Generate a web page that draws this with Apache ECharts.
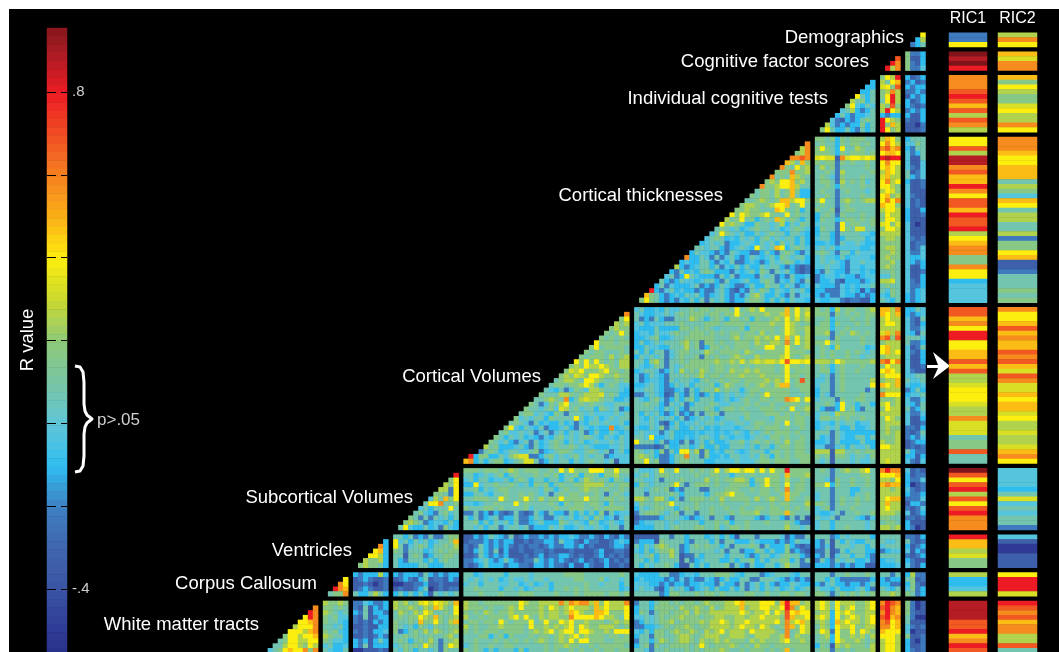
<!DOCTYPE html>
<html>
<head>
<meta charset="utf-8">
<title>R value matrix</title>
<script src="https://cdn.jsdelivr.net/npm/echarts@6/dist/echarts.min.js"></script>
<style>
  html, body { margin: 0; padding: 0; background: #fff; overflow: hidden; }
  #back { position: absolute; left: 9px; top: 9px; width: 1050px; height: 643px; background: #000; }
  #main { position: absolute; left: 0; top: 0; width: 1059px; height: 652px; filter: blur(0.45px); }
</style>
</head>
<body>
<div id="back"></div>
<div id="main"></div>
<script>
// colour codes used in the rows below -> R value
var codeValues = { a: -.5, b: -.33, c: -.22, d: -.1, e: -.02, f: .08, g: .17, h: .26, i: .33, j: .4, k: .48, l: .58, m: .68, n: .8, o: .88, p: .97 }

var sectionNames = ["Demographics", "Cognitive factor scores", "Individual cognitive tests", "Cortical thicknesses", "Cortical Volumes", "Subcortical Volumes", "Ventricles", "Corpus Callosum", "White matter tracts"]
var sectionSizes = [4, 4, 12, 35, 33, 13, 7, 5, 12]
var ricNames = ["RIC1", "RIC2"]
var tickLabels = { "0.8": ".8", "-0.4": "-.4" }

// colour bar steps, top to bottom
var barLevels = [.95, .93, .91, .89, .87, .85, .83, .81, .79, .77, .75, .73, .71, .69, .67, .65, .63, .61, .59, .57, .55, .53, .51, .49, .47, .45, .43, .41, .39, .37, .35, .33, .31, .29, .27, .25, .23, .21, .19, .17, .15, .13, .11, .09, .07, .05, .03, .01, -.01, -.03, -.05, -.07, -.09, -.11, -.13, -.15, -.17, -.19, -.21, -.23, -.25, -.27, -.29, -.31, -.33, -.35, -.37, -.39, -.41, -.43, -.45, -.47, -.49, -.51, -.53, -.55, -.57, -.59]

// matrix rows: own triangle | then the column blocks going right, split by |
var demogRows = [
  "",
  "j",
  "dh",
  "cdf"
]
var cogRows = [
  "|gccd",
  "m|gbbd",
  "nl|gcbd",
  "nhl|gcce"
]
var indivRows = [
  "|gjhn|dbcd",
  "d|hfjk|cdbc",
  "dd|ijgm|dcdd",
  "ddf|ghlh|ccdc",
  "jfdf|gjnh|bdcd",
  "hfgdf|fjnh|dbcd",
  "gjedfe|hgmg|dcbc",
  "efhdcdf|hnjh|cdcd",
  "dfdcddef|dcdd|dbbd",
  "ecbdcdfgf|njhg|cbbd",
  "hecdcddgdf|ngkh|bbac",
  "gjfddfdcfdf|njgh|bbbc"
]
var thickRows = [
  "|ggfgdgfgggff|hkjg|dfff",
  "l|fgffdgfggfgf|jljh|eegf",
  "hl|gjgfdjffhgff|lmkl|dcff",
  "ghl|gggfdgfgggfg|jkkj|ecdf",
  "llml|ijiiblijjiji|nonn|ebbf",
  "khfkg|gfggcgfgffgf|jljj|ebbe",
  "lgfjgh|fhfgcfffffgf|jkjh|ecbe",
  "ggglggh|ffgfchfffffg|hkjh|fbce",
  "lfgfkhgf|fgfecgfffgff|ikhh|fdce",
  "ghgjjkghf|fggfchfgfgef|jlhj|dbbc",
  "lgghjjkhff|ffgfdgfffgff|jjhg|ebbc",
  "fggfhfgkgdd|fgffcfgfffef|hjig|ebbb",
  "gfggfhfgkfdd|ffgfcffffgff|jkgh|ecbb",
  "ffghgfgkkhjjg|gjffcghgfghh|jljl|ebcb",
  "ghhgfghjjkfgjf|fgffcfgfffff|kjjg|ebcb",
  "gghggfffkjgfgdf|gffgbfggffff|hjjh|dbbd",
  "jgjhgghjgffjfgff|dfgfcgfffgff|gjhh|dbbc",
  "hfgjfgdfgfkhfgfdf|dgffdfggfgfg|gjjh|dbbb",
  "jghgfddgffefhdfegf|efffcjfggffg|ijgi|ebab",
  "fgfefdefgffefdefgfe|dgffcjgfiiff|gjjh|ebbb",
  "efjgfefddfefgffdffed|dffdcffffeed|hhhh|ebbb",
  "efgfdedfefdfgefeffdfd|effdcdffffde|ghhg|ecbc",
  "defefcddefedfefdgefdfd|ddedcfeefedd|gggg|ebcc",
  "ffeffdcdefedjfefkjdfgfe|efefdeeeedde|ghhg|ebce",
  "dfeedcdcfeddccdfdcfgfdce|fgfecffdfeee|gghg|ecce",
  "lddfecfcefdcdfedefdgfeffd|efeedfdeeeed|ghgg|edde",
  "deddffdcedfccdedcdfefgfded|efefedceefee|gghf|edcd",
  "hdcdeffdfcedfdfddfeffdcdcbc|eefeedceedee|ghgf|ebbd",
  "dcfdedfgfdddcedefdgfcfefdcbc|dcfeddceeded|ffgf|ebbc",
  "efcdjfedddcfdfcdddcfefcdcfdde|cdeededdcdee|eegf|ebbd",
  "fdcdfeedeffdcfddefddfgfcedfdcf|cddecbdddcde|hhif|ecbd",
  "dfcedddefcdcdfedccdfddgffdfecde|edddcededeef|fgff|eccd",
  "ndcefdeddcdccefdcbdcfegfdfedfefd|ddcccededbdc|fegf|ecde",
  "kgfdcdedfefdcdefdcdceghfddfdcfcee|dcdcceddcdcd|edgf|dcde",
  "gjgfdcdcedfdfcfefdcddfggfdfdfdfeed|eddeecbccbbd|fedf|dcde"
]
var volRows = [
  "|efdde dfeef fgfgg fgggf jfghg jgggg kgjgh|gfgdhfggffgh|kkhl|ddfe",
  "l|fedde efefg fgggf ggfgg jgfgg ghggh kgjgi|gggcgfgfgfgg|kjhk|dcde",
  "gj|fcdcf dccff fhgfd fgfdg gfgdg ffghg jgigh|ffgdfffgffgf|hjhh|ecbf",
  "hgh|efdee efffg ffffg ggfgg ggfgg gghgg jhgfg|fggdgfffgfgf|hjjh|ecbd",
  "ghgg|edddf ddddg gfgfg fefff fgdgg gggfg jhggh|gggdffgfffff|hhhh|ecce",
  "gfgjg|deedf eefgf fgggf gfgfg gfggf hfgfg jhgfh|gghcfgfhgfgf|ikhl|edbf",
  "gfgfgf|ddefg ddeff ggggg gfffg hfggh ghgjg kgjgh|fffcgffffgff|lmgm|fffe",
  "jgggfgg|dfdef efffg hfgcg gfgff gggfh gghhg lgjgh|ggjfgffffgff|ghhh|fccd",
  "gjfggggf|ddfee ddfff hfgcd ggfgf gggfg gjjgg jgfgh|fgfdhfffffde|jkhh|ebcf",
  "gfggfffgf|fdfdf fcefg gfffh gfggg gfhgf fgggg jgggf|fgfgffgfgfef|jkhj|ecbd",
  "gfgggfhfgh|dfefe fcefg ffgcg fgffg hgffh ggggh jgfgh|fgfgffgffeff|ghhh|ebbd",
  "jgjgjgfgfhh|ffdgh fcffg fgggg ghggh gighi hiihj mjjij|hhhgjhgggggh|lmjl|ebbd",
  "ghgjhhjhgfhh|fedeg fcfef ggggg fggfg gfgfg gggfg jggfg|fgfdfgfffgff|gjhh|ebbc",
  "gihjggghjggfg|deffe cdfeh fgfhg fggfh gghgh gggfg jfggg|fggdfgffgfff|jkjh|ecbb",
  "ghgihgjjhgghgg|ecdfe dcfff gfghf ggfgg ghggg hgggg jggfg|fefcfgffffff|hjjj|eeff",
  "fghhgfjjhgffgfg|ecdee dcfef fedfg ffgfg gfggg ghghg jfgmg|eefcfgfffffh|ghhk|feef",
  "fggfgghjhfdfgfee|ddefe dcdfe fdfff gdfhg ffgfg hgfhk kfggg|effcfgfffffj|kjhk|edde",
  "fedfcegfehhgfffed|eeffe dccde cfdfg fhfgf fdfgg fgggg gffgg|dffcfgffffcf|ghhh|cdfd",
  "gfffhhgfghhhifgfdd|ccefe dbcfd cfdcd fdefe fefgf gjggg gfffg|dfecfffffgff|ljjj|deef",
  "ffghgfldfhihhgffdde|fedfg ecdfd fgdff fdefd efgff ggfgg lkjgj|efffcgffggff|gggh|ecce",
  "gfcegfhjffgfgffeefff|ffgff dcfef cdfff gfeef ffgfg ffgff gggfg|ffgfdjffdffd|hjgh|edcf",
  "gffefgeihfgeffdgfefcd|ffffe dfefd cfffg fdfgg fgfff gggfg fjfgh|fdccdjfgdcff|gjhh|fcdf",
  "fggefedgfcfffefeeeefef|fdfef dcdfc dcfcf gfcff ffgff fgggf gfgfg|effehgggffff|hhhh|ecce",
  "gefeffdgffffjfdefdefeff|fedfe fefdf cdefe fdeff fegff ffegg gfggf|eggfgfgffgff|gjhg|ebbd",
  "fgfecfdeddfdecedffefeefd|feefe cbdfd eefef fefee ffefg gffgf jfggf|deedfeffdeef|ghhh|ebbc",
  "gjedfedfcddefdcfededdldef|eddfe gcefd dfefd edeee deffg fgggf gffgf|defefddfddef|ghgg|ccbd",
  "fgeefefcefcefdfefcdfddfede|efeee cefdd ddede edede fedfe fgfgg gfgff|fffcfedddddd|ghgh|cbcf",
  "gfdfefdedcedfgefefgfedfedfe|ffejd defdd edeff edfed eedef feggf gffgf|fdecfeddffdf|gggh|cdce",
  "gfefdcefcfdefgfdfefdefeefefe|jfffd fcddc fcefd fddef fgefg fgfgf hfggf|ddecfddddfdd|hggh|bcdd",
  "hfgdddefdcfdefgffgfefedddeefe|ccccb cfddf fdegd dfddf ffefd ffdfg gfggf|eeccefdfeefd|jjhh|bcbc",
  "cfgfdeffeefgcdefggfeefgfefcefd|gfefd gcfdj jfhcg dedff edeff fdfgf gfggf|hhhbhhffgfgg|hhhh|fdcc",
  "ndggddfeghiiccdfgefefgefeffcdeee|ghgfd ccdfg lffcg ddedf feefe gfdgf gfggg|gfgbggfeffeg|hhhh|ddbd",
  "kldfdfggdefgiifcdfeffdfefgffefbee|ggjfg ccdfg gfffd deeee feeef ggfgg gffgg|fefbfffefeef|hihh|ecbe"
]
var subcRows = [
  "|ggg fg ggfgh gfggg ffgfj gjggg jjjgg jgg|feeef jffjf fgfgf gjfhj jhjjg jgjgg ngggg|fgfcfghgghjf|lnll|ebcb",
  "n|ffdef efgdf gfffg fgfgd ffgdg gfdgg hff|efgef ggfff ffgff ggffd fgfgf ffggf kgggh|fffcfffffggf|jjjk|dbcc",
  "gj|efdff deefd fgfdf fdffd fgdfh gfgfd gfe|ffeef cfffg ffffh fgfgg hhgdg gjggf hffgf|ffecgffgffgf|hhgj|dcce",
  "hgj|ddjef fgffg fefdg fgdfg ffggh hhhfg fgg|dgfef ffgjf cfggg fgffg gggdf gjggf jfggf|ggjdgffgffgf|klkk|dabc",
  "hhcj|ffgdf efggf fffff egfdf gffgh ggfgf fgf|ffefg fgcdc fffcc fffgg gffgf ggfgf lfggf|fffcfffddfff|hhgh|ecbc",
  "ggfcj|ddffe dffgf fgfgf efcfg fggfg fgfcf gfe|ffcff ffgfd ffffd fgghj ggfff ggffg kggff|effcfffdffgf|hhhh|dccd",
  "ehfkgj|ffggg ffjgf fgjgf hfggj ggggj ggfgg fgf|hhgfh hfdfc fgggf gfhfg gggfh fghgf kgffg|effcfgffgfgf|hjkk|ccce",
  "fjjlffg|eedef fgfff jfgff ffgfd gfggf ggfdg fff|egffg fgjff ffgff ffgff ffgff ffgfg gfffh|ggfcfgffgfff|hkhh|bddc",
  "efdfffjf|gfffg gfgff ffgef fffgf fgggf fgfgg ggf|dfefg gffdf gfgff gffgf fgffg gfggf gfgfg|efgcfffgffff|hjhh|cbce",
  "fgedcfgef|ccfcd bdcbc fcbcf dcfdd cfdfd fdgcf dee|cfggg fefgc ffcff gfffg fgggh ffggg kgfff|eddefcffgffg|hhhg|ebcd",
  "gfcfcfefdf|fdfcd efcdd fccdf eccef efdef dgfde cef|bcccc dfffe dcdef cffdc ffffd cdffd cfcfb|feefcfffedce|ggff|ccbc",
  "ghgfcdeedfd|ffgdf dfefd fccde fdddg fefed gfdef edf|cdeef fefef fffdf fgfgd ffgff fgfff gfdcc|effdffffffef|fggf|dbbb",
  "fjeddfdecged|ffefd ffcef fefcd ddfef ddefe efedf fcf|ddddf fefgf ffggf fgefg gfgff fffff hffef|effdffgfffef|hhgh|dcab"
]
var ventRows = [
  "|ffdfcdcfccfgg|bbdcd fedcf bcdcc dcdcd dedcc dcbdc bdc|bbbbb ffcff dfffd efdfd bfffc ffffe bdccf|fffcdfeffffd|ffff|ccbd",
  "d|jefdfefdeffgk|bcccd cdcdd bbcbc cddcf ddcbd ccbbc ded|cdddb gffff dcfff dfcff dddfe dddcd cdfee|dcfbfdfeddff|feef|fcbc",
  "ld|jfcefgfdffgfh|cbcfd cdcdc bcbcc bcdcc ddcdb cbbbc ddc|fdfeg hgffc dfgfg ffdfc fffgf cfddd gdcbc|dcebfffeffdf|efff|dbcd",
  "jkd|gfcfffdefgfgg|cbdfd cfbdb bcbbc cbcbb bcbbb bcdbb ccb|edfdf gghfc dffff fefcf fcddg fdfdd gcdcb|ccfbcfdfffdd|cdee|ebdc",
  "jjhd|ffbfgfcdffggf|bbcfd cdcdb bbcbc dbccd dcbcb bcdbc bcb|fefgd ffhfb ccfdf fffdf ffdcd ffdef gffdc|dcfbeffdffdc|ffff|cbcd",
  "hgghd|fdcfffdfdfgff|ccdef dcdfd cbccf dcdcd cbcdb cbcdb cbc|ffdfd ffffb fcdef ffddf dffgd fdffg gdfcf|cfdcfeffddec|deef|dcbb",
  "ghggfd|fddddffdddfff|cbcdf dddcd dccbd dcdcc bdbbd cbbdb bcb|fdfef fgfdb bfdfd fffgc fdcfd dffdf hffcc|dddcdcdcddbb|ddde|ecbd"
]
var corpRows = [
  "|dcdddhd|dcdddcfdcdcdd|ffdef fffdf fffef fffff ggggf fffff fgf|edddd ffccd eedff fgggf edfff cdeff fedff|fffcffgfffgf|ffcf|dhcc",
  "j|bcdcbbc|bcdcbdfbccbdc|fefef efdef eefef fefff ffggf ffgef fef|deddd dcdce cdcce dcdfd dffcc fffed cdcdc|ffdfdccccccd|dcdd|fgbc",
  "lj|bbcbabc|aabbccdbbcbbb|effdf ffeef fdefd efdff ffffg ffeff fdf|eeedd cdcdd cdded dcfdd cfcef dfdcd dfedd|dcefddcddcdf|ddcc|dgcb",
  "nlk|bcdcbbc|bcbbcdfabcbcc|ffgff ffdff efdef ffdff gfgfg fffff fde|efeec bdfef dcdef dfddf dfcef dfefd efdef|feedfdddefdc|fedf|egcd",
  "fggl|fddfhfd|dfdfdfdbfefef|fffgf ffgff fgggf fffgf ffgfg gggfg gfg|fffff cdggf ffgfg gfgff ffggf fgffg gfggf|ggfcfgfgfgfg|gghg|gfcd"
]
var wmRows = [
  "|hgghg|ccedccd|hghfgijhjihgk|hggfg ggggg gjhgg hhhhl hlkll hkgjh hhl|cffdf ggfgf ggfgh ggghh jkhhh jjjgk nkkgh|hjhfjhhhgghj|lnml|gcab",
  "l|ggfgf|cbfbdcd|hgghgfhgkigfj|hgggf gffgh gjggg hgjhg hjhhh gkhjh hhj|dffdg gggfh gghgf hfghh hkghh jjhhj nlgjh|hjhfjghjgghj|mnlk|gcab",
  "nl|hgfef|dcfbddc|fhgfhgjhffgfj|gfgfh gfggh ggggg hghhg hkjhg gkkjg ggj|dgfcf ggfgg hfhgg hhhhh hjhgh hjgjh mjkjj|ghhdjhjhgghh|lnlk|gcbb",
  "jnl|gfgee|cbfbcdd|fgfggjhgkgfgh|hffgf gggfh jgjgf hghhg gljjj jkjhh gfj|eefef gfggh gggfg ghhgg hhghh jhhhg mkhhj|hjhdjghjhghj|mnkl|fcaa",
  "jjkl|gffed|cbcbdcd|gffgfkggjgfhk|fggfg gfjgf gggjf gjggj hjggh gggfg hgh|cdfef gghfg ggghg hhjhg hhjhh hhhjg lhjkh|ghgdkhjhhghj|lmjk|fbbb",
  "hjjjl|ffefd|bbcbbdd|gfefdgfegffgg|hfgff gghgg ggfjg ghghg hjgjh gghhh gfg|ccdde fgfgg hgfgg hhhhg hjhhg jhgfg lkgjh|fhgdjhhjgghh|lljk|ecbc",
  "jjjhkl|gfged|cbcbdde|gcdfgfhfhgfgh|gfgfg ggfgg ggfgh ghjgh jjgjj hgghg jjj|edfdg gfghg ghgfh ghjgh hhgjh hhhgf lfgjh|gjhcjggjgjhg|kjjj|eabb",
  "gjjhjjk|hgffd|bbcbcdc|ffgfgffgffghf|fffgg dfgdg fffgf ggfgh ghjgh gggfg gfg|dffcg gffgh hgfgh hhggh hhgfh hhggh lfhgg|fghdjgghghfh|jjjh|gbbc",
  "fgjjhhjj|gfeed|dcdbdfd|fgfdfgfhfcfgh|ffgff fgfgf gfgfg hgfgh gjgjj gggff ggg|cffdf hgfgh hgfhg ghghg ggfhg hgggh jgghg|fggdjhgghgfg|hjjh|dbac",
  "ffhjjhgjh|efdde|dcfbddd|efgfgfjgfcgjh|efgff gffgg fffff fgfgg hggff gfggg ggf|dfgcg ffggg gfgjg fgggh gfgfh ggfgg ggggg|dgfbhghgggfh|hjjh|dbbc",
  "efgjkjjlgl|feddf|aabbbcb|fegfdffefcgff|gfgfd fdfff dgdff fgfgf fgfgf fgfgg fgg|ffecf fgfff gfgfg gghgf fgfgg gfgfg kfggg|fggcgfgfgggh|hjjh|dcbc"
]

// RIC stripes, one string per section, space = no stripe
var ric1Rows = [
  " ccj",
  "popn",
  "lllmnmkmhmlh",
  "jjmhoolmkknljmmknmmnhjkllggljjdeeee",
  "mmkljnnjjkkmkmhhijjjihhliiifggmff",
  "pmjmnhmjmnlll",
  "nkkhigg",
  "hddeh",
  "oooommnklnm"
]
var ric2Rows = [
  " hlj",
  "kill",
  "kgjhggijhhlj",
  "lllkjjkkkfhgekjfhhffhcggjkbbcfffgfg",
  "ljjkmklkkmlmkimliikjkkijhhihhiklj",
  "eeeedfiefeffc",
  "ebaabbb",
  "jnnni",
  "nmlmkllhhmf"
]

var rowCount = 132
var colCount = 133

// first global index of each section: one empty row/column between sections
var sectionStart = []
var next = 0
sectionSizes.forEach(function (n) {
  sectionStart.push(next)
  next += n + 1
})

function indexList(n) {
  var arr = []
  for (var i = 0; i < n; i++) arr.push(i)
  return arr
}

// turn the coded rows of one section into heatmap cells
var matrixCells = []
function addRows(sectionIndex, rows) {
  rows.forEach(function (row, i) {
    var r = sectionStart[sectionIndex] + i
    if (r >= rowCount) return
    var parts = row.split("|")
    parts.forEach(function (part, p) {
      var b = parts.length - 1 - p
      var codes = part.replace(/ /g, "")
      for (var k = 0; k < codes.length; k++) {
        var c = sectionStart[b] + codes.length - 1 - k
        if (c < colCount) matrixCells.push([c, r, codeValues[codes.charAt(k)]])
      }
    })
  })
}
addRows(0, demogRows)
addRows(1, cogRows)
addRows(2, indivRows)
addRows(3, thickRows)
addRows(4, volRows)
addRows(5, subcRows)
addRows(6, ventRows)
addRows(7, corpRows)
addRows(8, wmRows)

function stripeCells(rows) {
  var cells = []
  rows.forEach(function (codes, s) {
    for (var k = 0; k < codes.length; k++) {
      if (codes.charAt(k) !== " ") cells.push([0, sectionStart[s] + k, codeValues[codes.charAt(k)]])
    }
  })
  return cells
}

var barCells = barLevels.map(function (v, i) { return [0, i, v] })

var myChart = echarts.init(document.querySelector("#main"), null, { renderer: "canvas" })

var cellW = 5.02
var cellH = 4.735
var fontName = "Liberation Sans"

// section captions: right-hand end and middle height of each text
var captionRight = [904, 869, 828, 723, 541, 413, 352, 317, 259]
var captionY = [38, 62, 99, 196, 377, 498, 551, 584, 625]

var elements = sectionNames.map(function (name, i) {
  return {
    type: "text",
    x: captionRight[i],
    y: captionY[i],
    silent: true,
    style: { text: name, fill: "#fff", font: "18.5px '" + fontName + "'", textAlign: "right", textVerticalAlign: "middle" }
  }
})
elements.push({
  type: "text", x: 28, y: 340, rotation: Math.PI / 2, silent: true,
  style: { text: "R value", fill: "#fff", font: "18.5px '" + fontName + "'", textAlign: "center", textVerticalAlign: "middle" }
})
elements.push({
  type: "text", x: 97, y: 420, silent: true,
  style: { text: "p>.05", fill: "#d0d0d0", font: "17px '" + fontName + "'", textVerticalAlign: "middle" }
})
// brace next to the colour bar
elements.push({
  type: "polyline", silent: true,
  shape: { points: [[75, 366], [80, 367], [83, 372], [84, 382], [84, 404], [85, 411], [87, 415], [92, 419], [87, 423], [85, 427], [84, 434], [84, 456], [83, 466], [80, 471], [75, 472]] },
  style: { fill: null, stroke: "#fff", lineWidth: 3, lineJoin: "round" }
})
// arrow pointing at RIC1
elements.push({
  type: "polygon", silent: true,
  shape: { points: [[927, 365], [938, 365], [933, 352], [950, 366], [933, 379], [938, 368], [927, 368]] },
  style: { fill: "#fff" }
})

function hiddenCat(gridIndex, data, inverse) {
  return { type: "category", gridIndex: gridIndex, data: data, inverse: inverse, show: false }
}

var option = {
  animation: false,
  visualMap: {
    show: false,
    dimension: 2,
    seriesIndex: [0, 1, 2, 3],
    min: -.6,
    max: 1,
    inRange: {
      color: ["#232a80", "#2e3a94", "#3a53a4", "#3f66ad", "#3e7fc1", "#2fbdf0", "#5fc6d8", "#78c5a5", "#8dc97a", "#c9d82f", "#fcee0f", "#fbb116", "#f58220", "#f04e23", "#ed1c24", "#a81c24", "#6e1216"]
    }
  },
  grid: [
    { outerBoundsMode: "none", left: 925.5 - colCount * cellW, top: 28, width: colCount * cellW, height: rowCount * cellH },
    { outerBoundsMode: "none", left: 949, top: 28, width: 38, height: rowCount * cellH },
    { outerBoundsMode: "none", left: 998, top: 28, width: 39, height: rowCount * cellH },
    { outerBoundsMode: "none", left: 47, top: 28, width: 20, height: barLevels.length * 8.28 },
    { outerBoundsMode: "none", left: 47, top: 9.2, width: 20, height: 662.8 }
  ],
  xAxis: [
    hiddenCat(0, indexList(colCount), true),
    {
      type: "category", gridIndex: 1, position: "top", data: [ricNames[0]],
      axisLine: { show: false }, axisTick: { show: false },
      axisLabel: { color: "#fff", fontSize: 16, fontFamily: fontName, margin: 1 }
    },
    {
      type: "category", gridIndex: 2, position: "top", data: [ricNames[1]],
      axisLine: { show: false }, axisTick: { show: false },
      axisLabel: { color: "#fff", fontSize: 16, fontFamily: fontName, margin: 1 }
    },
    hiddenCat(3, ["R"], false),
    { type: "value", gridIndex: 4, show: false }
  ],
  yAxis: [
    hiddenCat(0, indexList(rowCount), true),
    hiddenCat(1, indexList(rowCount), true),
    hiddenCat(2, indexList(rowCount), true),
    hiddenCat(3, barLevels, true),
    {
      type: "value", gridIndex: 4, position: "right", min: -.6, max: 1, interval: .2, z: 10,
      axisLine: { show: false }, axisTick: { show: false },
      splitLine: { show: true, lineStyle: { color: "#000", width: 1, type: [9, 5] } },
      axisLabel: {
        color: "#d0d0d0", fontSize: 15, fontFamily: fontName, margin: 5,
        formatter: function (v) { return tickLabels[String(Math.round(v * 10) / 10)] || "" }
      }
    }
  ],
  graphic: { elements: elements },
  series: [
    { type: "heatmap", xAxisIndex: 0, yAxisIndex: 0, data: matrixCells, progressive: 0, silent: true },
    { type: "heatmap", xAxisIndex: 1, yAxisIndex: 1, data: stripeCells(ric1Rows), silent: true },
    { type: "heatmap", xAxisIndex: 2, yAxisIndex: 2, data: stripeCells(ric2Rows), silent: true },
    { type: "heatmap", xAxisIndex: 3, yAxisIndex: 3, data: barCells, silent: true }
  ]
}

myChart.setOption(option)
window.addEventListener("resize", function () {
  myChart.resize()
})
</script>
</body>
</html>
